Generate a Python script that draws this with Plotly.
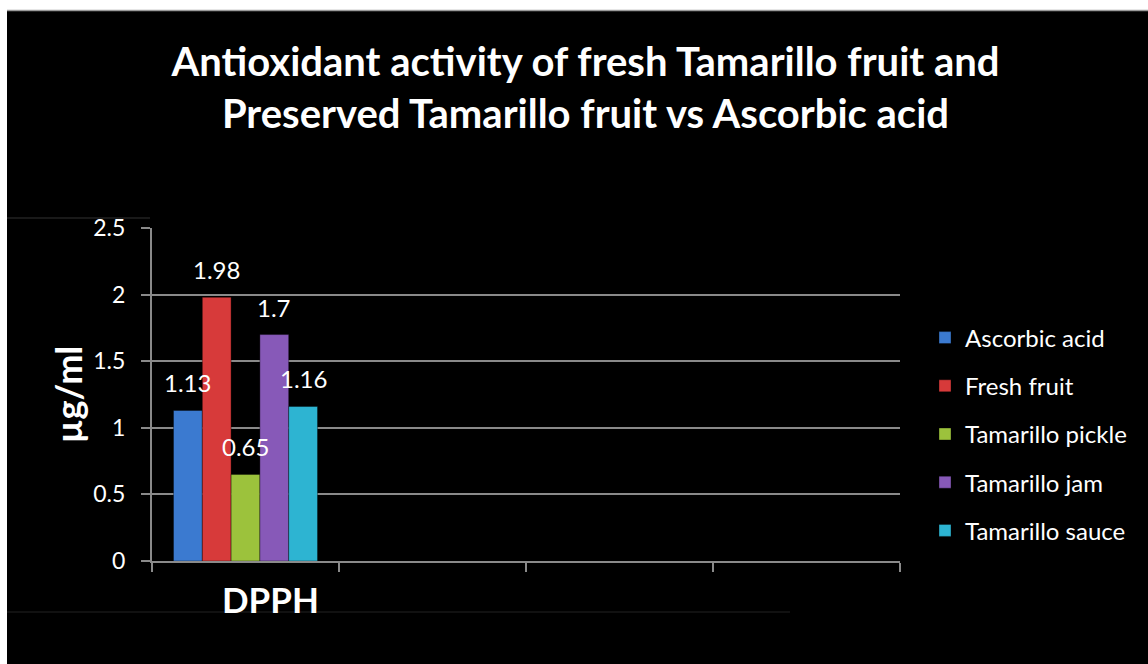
import plotly.graph_objects as go

# Assay categories on the x axis (only DPPH carries data)
categories = ["DPPH", " ", "  ", "   "]

# Series: antioxidant activity (µg/ml) per sample for the DPPH assay
series_names = ["Ascorbic acid", "Fresh fruit", "Tamarillo pickle", "Tamarillo jam", "Tamarillo sauce"]
dpph_values = [1.13, 1.98, 0.65, 1.7, 1.16]
series_colors = ["#3b7ad0", "#d73a3a", "#9cc23c", "#8759b8", "#2db4d2"]

y_ticks = [0, 0.5, 1, 1.5, 2, 2.5]
y_tick_labels = ["0", "0.5", "1", "1.5", "2", "2.5"]

FONT = "Lato, 'Open Sans', sans-serif"
GRID = "#8a8a8a"
BARGAP = 0.23

fig = go.Figure()
for name, val, col in zip(series_names, dpph_values, series_colors):
    fig.add_trace(go.Bar(
        x=[categories[0]], y=[val], name=name,
        legendgroup=name,
        marker=dict(color=col, line=dict(color="rgba(0,0,0,0.35)", width=1)),
        hoverinfo="y+name",
    ))

# value labels above each bar, placed at the grouped-bar centres
n = len(dpph_values)
bw = (1 - BARGAP) / n
annotations = []
for i, val in enumerate(dpph_values):
    xc = -(1 - BARGAP) / 2 + (i + 0.5) * bw
    annotations.append(dict(
        x=xc, y=val, xref="x", yref="y", text=str(val), showarrow=False,
        yanchor="bottom", yshift=11,
        font=dict(family=FONT, size=24, color="white"),
    ))

# category label under the first group
annotations.append(dict(
    x=0, y=0, xref="x", yref="y", text="<b>DPPH</b>", showarrow=False,
    yanchor="middle", yshift=-38, xshift=25,
    font=dict(family=FONT, size=35, color="white"),
))

fig.update_layout(
    width=1148, height=664,
    margin=dict(l=152, r=248, t=228, b=103),
    paper_bgcolor="black", plot_bgcolor="black",
    barmode="group", bargap=BARGAP, bargroupgap=0,
    title=dict(
        text="<b>Antioxidant activity of fresh Tamarillo fruit and<br>Preserved Tamarillo fruit vs Ascorbic acid</b>",
        x=0.51, xanchor="center", y=0.885, yanchor="middle",
        font=dict(family=FONT, size=40, color="white"),
    ),
    xaxis=dict(
        type="category", categoryorder="array", categoryarray=categories,
        range=[-0.5, 3.5], tickson="boundaries", ticks="outside", ticklen=9,
        tickcolor=GRID, tickwidth=2, showticklabels=False, showgrid=False,
        showline=True, linecolor=GRID, linewidth=2, zeroline=False, fixedrange=True,
    ),
    yaxis=dict(
        range=[0, 2.5], tickvals=y_ticks, ticktext=y_tick_labels,
        ticks="outside", ticklen=9, tickcolor=GRID, tickwidth=2,
        ticklabelstandoff=11,
        tickfont=dict(family=FONT, size=23, color="white"),
        showgrid=True, gridcolor=GRID, gridwidth=2,
        showline=True, linecolor=GRID, linewidth=2, zeroline=False,
        title=dict(text="<b>µg/ml</b>", font=dict(family=FONT, size=36, color="white"), standoff=0),
        automargin=False,
    ),
    legend=dict(
        x=(925 - 152) / 748, xanchor="left", y=(561 - 434) / 333, yanchor="middle",
        font=dict(family=FONT, size=24, color="white"),
        bgcolor="rgba(0,0,0,0)", traceorder="grouped", tracegroupgap=14,
    ),
    annotations=annotations,
    showlegend=True,
)

# white page edge at the top and left, with the thin border of the slide
fig.add_shape(type="rect", xref="paper", yref="paper",
              x0=-1, x1=2, y0=(561 - 10) / 333, y1=2, fillcolor="white", line_width=0, layer="above")
fig.add_shape(type="rect", xref="paper", yref="paper",
              x0=-1, x1=(7 - 152) / 748, y0=-1, y1=2, fillcolor="white", line_width=0, layer="above")
fig.add_shape(type="line", xref="paper", yref="paper",
              x0=(7 - 152) / 748, x1=2, y0=(561 - 10.5) / 333, y1=(561 - 10.5) / 333,
              line=dict(color="#9a9a9a", width=1.5), layer="above")
fig.add_shape(type="line", xref="paper", yref="paper",
              x0=(7 - 152) / 748, x1=(150 - 152) / 748, y0=(561 - 218) / 333, y1=(561 - 218) / 333,
              line=dict(color="#333333", width=1), layer="above")
fig.add_shape(type="line", xref="paper", yref="paper",
              x0=(7 - 152) / 748, x1=(790 - 152) / 748, y0=(561 - 612) / 333, y1=(561 - 612) / 333,
              line=dict(color="#222222", width=1), layer="above")

fig.write_html("out.html")
